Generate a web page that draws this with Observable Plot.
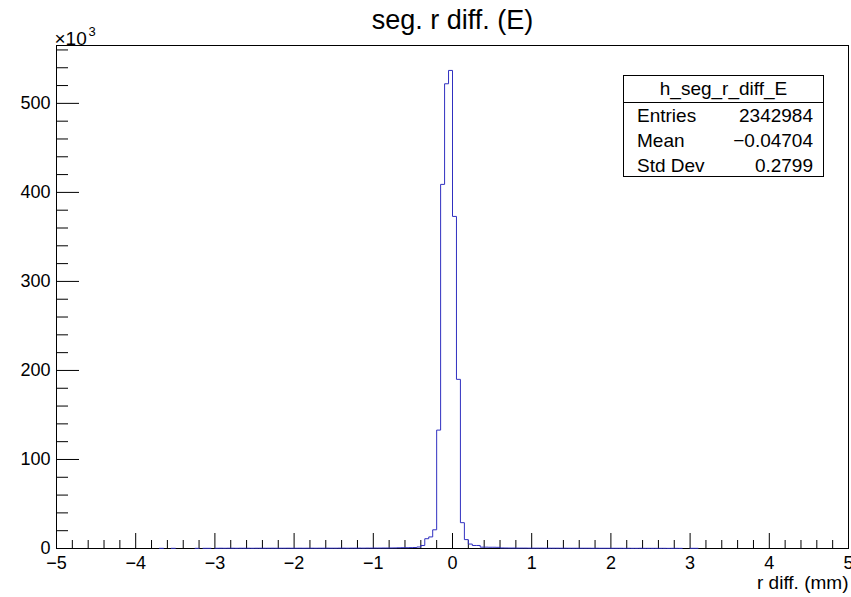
<!DOCTYPE html>
<html>
<head>
<meta charset="utf-8">
<script src="https://cdn.jsdelivr.net/npm/d3@7"></script>
<script src="https://cdn.jsdelivr.net/npm/@observablehq/plot@0.6"></script>
<style>
  body { margin: 0; background: #fff; }
  #wrap { position: relative; width: 851px; height: 597px; font-family: 'Liberation Sans', Arial, sans-serif; }
  #stats { position: absolute; left: 623px; top: 75px; width: 201px; height: 102px; box-sizing: border-box;
           border: 1px solid #000; background: #fff; font-size: 19px; color: #000; }
  #stats .head { height: 26px; line-height: 26px; text-align: center; border-bottom: 1px solid #000; }
  #stats .row { height: 25px; line-height: 25px; display: flex; justify-content: space-between; padding: 0 10px 0 13px; }
</style>
</head>
<body>
<div id="wrap"></div>
<script>
// ---- data ----
const chartTitle = "seg. r diff. (E)";
const xAxisTitle = "r diff. (mm)";
const yExponentBase = "\u00d710";
const yExponent = "3";
const binLow = -5;
const binWidth = 0.05;
// 200 bins from -5 to 5 (entries per bin)
const binCounts = [
  0,0,0,0,0,0,0,0,0,0,0,0,0,0,0,0,0,0,0,0,
  0,0,0,0,0,0,200,0,0,200,0,0,0,0,0,200,0,200,200,0,
  250,300,250,300,300,250,300,300,300,250,300,300,300,300,350,300,300,300,350,300,
  300,350,300,350,350,300,350,350,400,350,350,400,400,350,400,400,450,400,450,450,
  500,500,550,550,600,650,800,900,900,1000,1100,1700,3400,11000,13000,21000,133000,409000,522000,537000,
  373000,190000,29000,10000,5000,3400,3400,1500,1500,1400,1400,1300,600,550,500,500,450,450,450,400,
  400,400,400,350,350,350,350,300,350,300,300,300,300,300,300,250,300,250,250,250,
  250,250,250,200,250,200,200,250,200,200,200,200,200,200,150,200,200,150,0,0,
  200,200,0,0,0,0,0,0,0,0,0,0,0,0,0,0,0,0,0,0,
  0,0,0,0,0,0,0,0,0,0,0,0,0,0,0,0,0,0,0,0
];
const xMajorTicks = [-5,-4,-3,-2,-1,0,1,2,3,4,5];
const yMajorTicks = [0,100000,200000,300000,400000,500000];
const yTop = 565000;
const statsTitle = "h_seg_r_diff_E";
const statsLabels = ["Entries", "Mean", "Std Dev"];
const statsValues = ["2342984", "\u22120.04704", "0.2799"];

// ---- derived ----
const xMinorTicks = d3.range(-50, 51, 2).filter(v => v % 10 !== 0).map(v => v / 10);
const yMinorTicks = d3.range(0, 561, 20).filter(v => v % 100 !== 0).map(v => v * 1000);

// step outline, skipping empty bins (they lie on the axis)
const pts = [];
binCounts.forEach((c, i) => {
  if (c > 0) {
    const x0 = binLow + i * binWidth, x1 = binLow + (i + 1) * binWidth;
    pts.push({x: x0, y: c}, {x: x1, y: c});
  } else if (pts.length && !isNaN(pts[pts.length - 1].x)) {
    pts.push({x: NaN, y: NaN});
  }
});

const W = 851, H = 597, mL = 56, mR = 3, mT = 45, mB = 49;
const fw = W - mL - mR, fh = H - mT - mB;
const fmt = d => (d < 0 ? "\u2212" + Math.abs(d) : String(d));
const histColor = "#3030c0";

const chart = Plot.plot({
  width: W, height: H,
  marginLeft: mL, marginRight: mR, marginTop: mT, marginBottom: mB,
  style: {fontFamily: "'Liberation Sans', Arial, sans-serif", fontSize: "18px", background: "white", color: "black", overflow: "visible"},
  x: {domain: [-5, 5]},
  y: {domain: [0, yTop]},
  marks: [
    Plot.axisX({ticks: xMajorTicks, tickSize: 0, tickPadding: 8, tickFormat: fmt, fontSize: 18, label: null}),
    Plot.axisY({ticks: yMajorTicks, tickSize: 0, tickPadding: 6, tickFormat: d => fmt(d / 1000), fontSize: 18, label: null}),
    Plot.ruleX(xMajorTicks, {x: d => d, insetTop: fh - 15, stroke: "black"}),
    Plot.ruleX(xMinorTicks, {x: d => d, insetTop: fh - 8, stroke: "black"}),
    Plot.ruleY(yMajorTicks, {y: d => d, insetRight: fw - 23, stroke: "black"}),
    Plot.ruleY(yMinorTicks, {y: d => d, insetRight: fw - 12, stroke: "black"}),
    Plot.frame({stroke: "black"}),
    Plot.line(pts, {x: "x", y: "y", stroke: histColor, strokeWidth: 1}),
    Plot.text([chartTitle], {frameAnchor: "top", lineAnchor: "bottom", dy: -17, fontSize: 27}),
    Plot.text([yExponentBase], {frameAnchor: "top-left", textAnchor: "start", lineAnchor: "bottom", dx: -2, dy: -1, fontSize: 19}),
    Plot.text([yExponent], {frameAnchor: "top-left", textAnchor: "start", lineAnchor: "bottom", dx: 32, dy: -10, fontSize: 13}),
    Plot.text([xAxisTitle], {frameAnchor: "bottom-right", textAnchor: "end", lineAnchor: "bottom", dy: 40, fontSize: 19})
  ]
});

const wrap = document.getElementById("wrap");
wrap.appendChild(chart);

const stats = document.createElement("div");
stats.id = "stats";
const head = document.createElement("div");
head.className = "head";
head.textContent = statsTitle;
stats.appendChild(head);
statsLabels.forEach((l, i) => {
  const row = document.createElement("div");
  row.className = "row";
  const a = document.createElement("span"); a.textContent = l;
  const b = document.createElement("span"); b.textContent = statsValues[i];
  row.appendChild(a); row.appendChild(b);
  stats.appendChild(row);
});
wrap.appendChild(stats);
</script>
</body>
</html>
